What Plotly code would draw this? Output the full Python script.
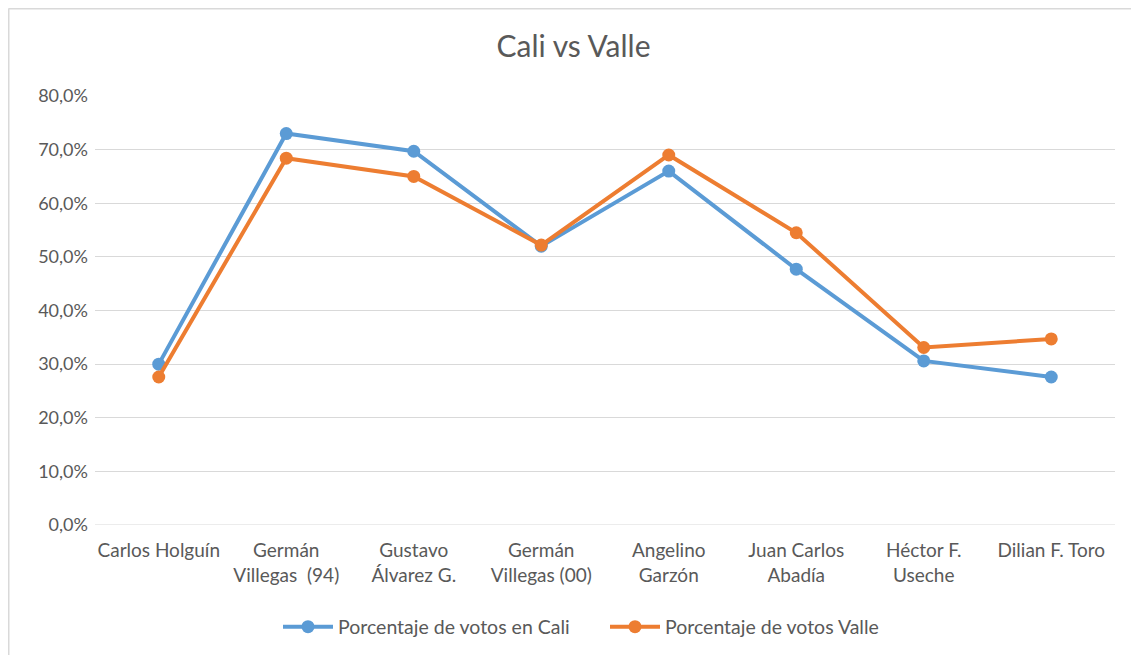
import plotly.graph_objects as go

categories = ["Carlos Holguín", "Germán<br>Villegas  (94)", "Gustavo<br>Álvarez G.",
              "Germán<br>Villegas (00)", "Angelino<br>Garzón", "Juan Carlos<br>Abadía",
              "Héctor F.<br>Useche", "Dilian F. Toro"]
cali = [0.300, 0.730, 0.697, 0.520, 0.660, 0.477, 0.306, 0.276]
valle = [0.276, 0.684, 0.650, 0.522, 0.690, 0.545, 0.331, 0.347]
series_names = ["Porcentaje de votos en Cali", "Porcentaje de votos Valle"]
tick_vals = [0, 0.1, 0.2, 0.3, 0.4, 0.5, 0.6, 0.7, 0.8]
tick_text = ["0,0%", "10,0%", "20,0%", "30,0%", "40,0%", "50,0%", "60,0%", "70,0%", "80,0%"]

FONT = "Lato, 'Open Sans', sans-serif"
GREY = "#595959"

# page body has an 8px margin, so the figure is placed at (8, 8)
W, H = 1131, 647
L, R, T, B = 87, 24, 88, 130
PW, PH = W - L - R, H - T - B

fig = go.Figure()
fig.add_trace(go.Scatter(x=categories, y=cali, name=series_names[0], mode="lines+markers",
                         line=dict(color="#5B9BD5", width=4),
                         marker=dict(color="#5B9BD5", size=13)))
fig.add_trace(go.Scatter(x=categories, y=valle, name=series_names[1], mode="lines+markers",
                         line=dict(color="#ED7D31", width=4),
                         marker=dict(color="#ED7D31", size=13)))

fig.update_layout(
    width=W, height=H,
    margin=dict(l=L, r=R, t=T, b=B, autoexpand=False),
    paper_bgcolor="white", plot_bgcolor="white",
    font=dict(family=FONT, size=19, color=GREY),
    title=dict(text="Cali vs Valle", x=0.5, xanchor="center", y=1 - 38 / H, yanchor="middle",
               font=dict(family=FONT, size=30, color=GREY)),
    showlegend=True,
    legend=dict(orientation="h", x=0.5, xanchor="center", y=-(619 - 517) / PH, yanchor="middle",
                font=dict(family=FONT, size=19.5, color=GREY), itemwidth=50,
                entrywidth=262, entrywidthmode="pixels", traceorder="normal"),
    xaxis=dict(type="category", range=[-0.5, 7.5], showgrid=False, showline=False,
               ticks="", ticklabelstandoff=12,
               tickfont=dict(family=FONT, size=19, color=GREY), zeroline=False),
    yaxis=dict(range=[0, 0.8], tickvals=tick_vals, ticktext=tick_text, showgrid=True,
               gridcolor="#d9d9d9", gridwidth=1, zeroline=False, showline=False,
               ticks="", ticklabelstandoff=6,
               tickfont=dict(family=FONT, size=18, color=GREY)),
    shapes=[
        dict(type="line", xref="paper", yref="paper", x0=(-L + 0.5) / PW, x1=(W - L) / PW,
             y0=(H - B - 0.5) / PH, y1=(H - B - 0.5) / PH, line=dict(color="#d9d9d9", width=2)),
        dict(type="line", xref="paper", yref="paper", x0=(-L + 0.5) / PW, x1=(-L + 0.5) / PW,
             y0=(H - B - 0.5) / PH, y1=-B / PH, line=dict(color="#d9d9d9", width=2)),
    ],
)
fig.add_hline(y=0, line=dict(color="#d9d9d9", width=1))

fig.write_html("out.html")
